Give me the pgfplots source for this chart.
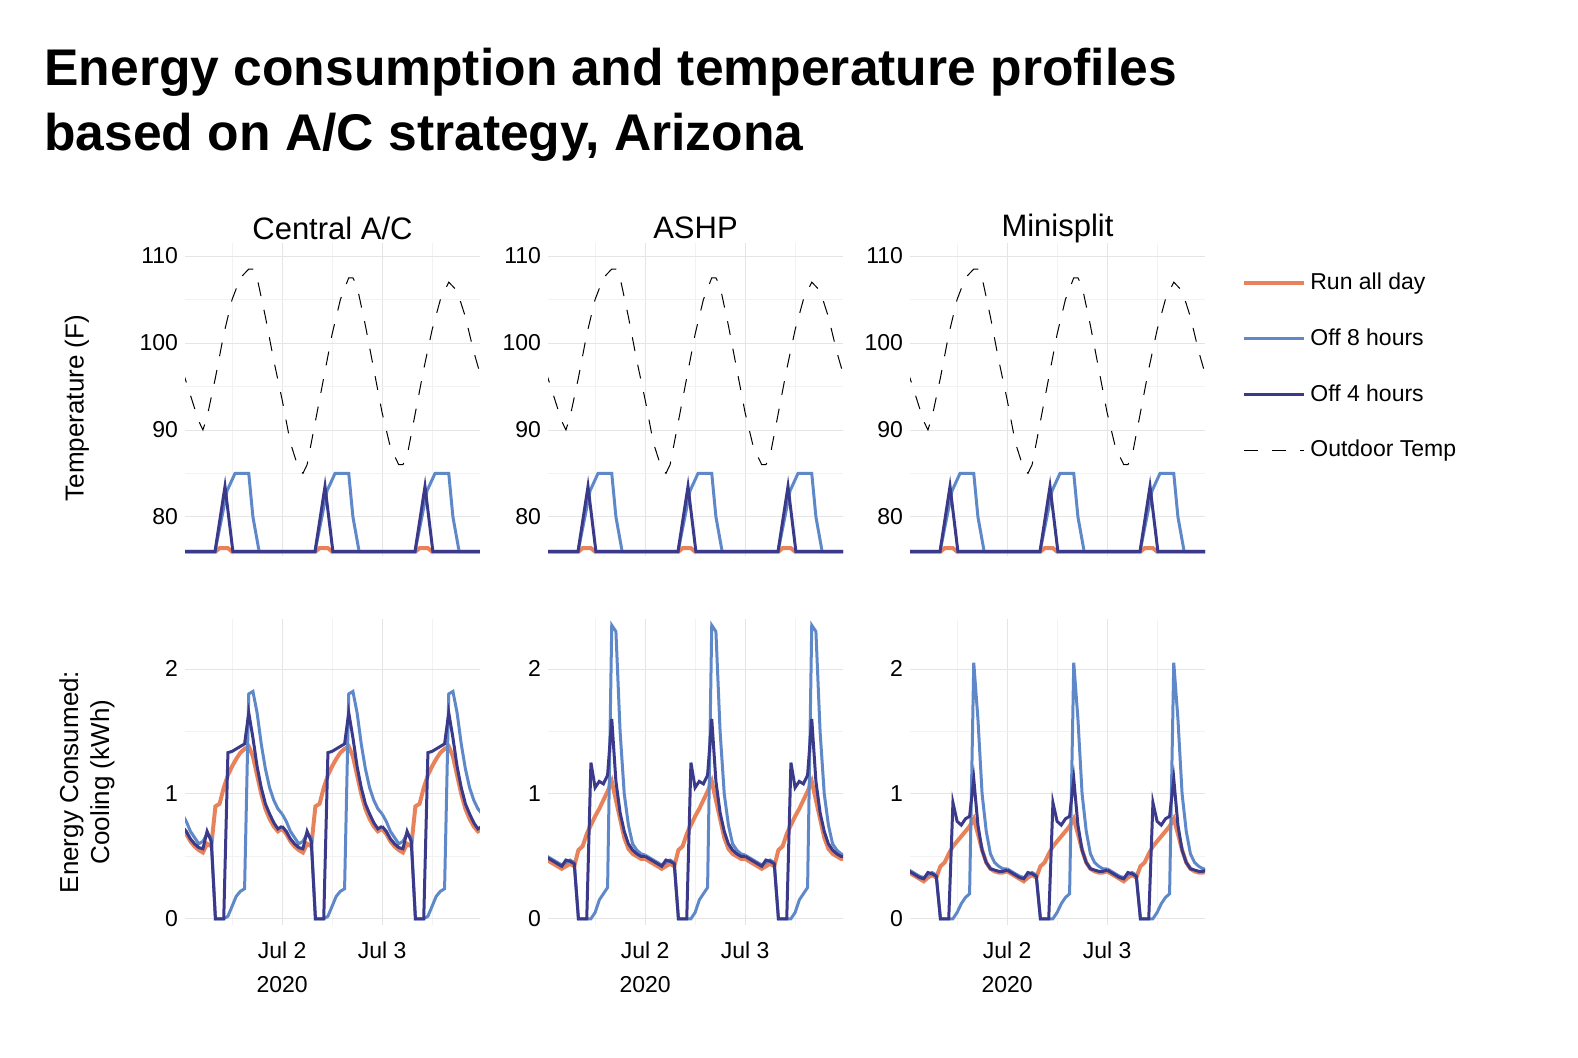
\documentclass[border=0pt]{standalone}
\usepackage{pgfplots}
\usepackage{pgfplotstable}
\pgfplotsset{compat=1.18}
\usepackage{fontspec}
\setmainfont{Liberation Sans}
\definecolor{runc}{HTML}{E8825A}
\definecolor{off8}{HTML}{5F88C9}
\definecolor{off4}{HTML}{3B3A8A}
\pgfplotstableread{
h r e4 e8
0 0.72 0.74 0.84
1 0.68 0.70 0.78
2 0.62 0.64 0.70
3 0.58 0.60 0.65
4 0.55 0.57 0.60
5 0.53 0.56 0.62
6 0.60 0.70 0.68
7 0.58 0.62 0.65
8 0.90 0.00 0.00
9 0.92 0.00 0.00
10 1.05 0.00 0.00
11 1.15 1.33 0.02
12 1.22 1.34 0.10
13 1.28 1.36 0.18
14 1.33 1.38 0.22
15 1.36 1.40 0.24
16 1.38 1.65 1.80
17 1.30 1.45 1.82
18 1.15 1.22 1.65
19 1.00 1.05 1.40
20 0.88 0.92 1.20
21 0.80 0.84 1.05
22 0.74 0.77 0.95
23 0.70 0.72 0.88
24 0.72 0.74 0.84
}\catab
\pgfplotstableread{
h r e4 e8
0 0.48 0.50 0.51
1 0.46 0.48 0.49
2 0.44 0.46 0.47
3 0.42 0.44 0.45
4 0.40 0.42 0.43
5 0.42 0.47 0.45
6 0.44 0.46 0.47
7 0.42 0.44 0.45
8 0.55 0.00 0.00
9 0.58 0.00 0.00
10 0.68 0.00 0.00
11 0.75 1.25 0.00
12 0.82 1.05 0.05
13 0.88 1.10 0.15
14 0.95 1.08 0.20
15 1.02 1.15 0.25
16 1.10 1.60 2.35
17 0.95 1.10 2.30
18 0.80 0.85 1.50
19 0.65 0.70 1.00
20 0.56 0.60 0.75
21 0.52 0.55 0.60
22 0.50 0.52 0.55
23 0.48 0.50 0.52
24 0.48 0.50 0.51
}\astab
\pgfplotstableread{
h r e4 e8
0 0.38 0.39 0.40
1 0.36 0.37 0.38
2 0.34 0.35 0.36
3 0.32 0.33 0.34
4 0.30 0.32 0.33
5 0.33 0.37 0.35
6 0.35 0.36 0.37
7 0.33 0.34 0.35
8 0.42 0.00 0.00
9 0.45 0.00 0.00
10 0.52 0.00 0.00
11 0.58 0.93 0.00
12 0.62 0.78 0.05
13 0.66 0.75 0.12
14 0.70 0.80 0.17
15 0.74 0.82 0.20
16 0.80 1.12 2.05
17 0.68 0.75 1.60
18 0.55 0.55 1.00
19 0.45 0.45 0.70
20 0.40 0.40 0.52
21 0.38 0.39 0.45
22 0.37 0.38 0.42
23 0.37 0.38 0.40
24 0.38 0.39 0.40
}\mstab
\pgfplotstableread{
h t
0 97
2 94
4 91
5 90
6 91.5
8 96
10 101
12 105
14 107.5
16 108.5
17 108.5
18 107.5
20 103
22 98
24 93.5
26 88.5
28 85.5
29 85
30 86
32 91
34 96
36 101
38 105
40 107.5
41 107.5
42 106.5
44 102
46 97
48 92
50 88
52 86
53 86
54 87
56 92
58 97
60 101.5
62 105
64 107
65 106.5
66 106
68 103
70 99
71.5 96.5
}\outtab
\pgfplotstableread{
h t
0 76
8 76
9 76.4
11 76.4
12 76
24 76
}\trun
\pgfplotstableread{
h t
0 76
7.9 76
10.8 83
12.7 85
16 85
17 80
18.5 76
24 76
}\teight
\pgfplotstableread{
h t
0 76
7.9 76
10.3 83.5
12.2 76
24 76
}\tfour
\pgfplotsset{
 panel/.style={scale only axis, width=147.5pt, xmin=0.7, xmax=71.5,
  axis line style={draw=none}, tick style={draw=none},
  grid=both, major grid style={black!10}, minor grid style={black!5},
  xtick={24,48}, minor xtick={12,36,60},
  tick label style={font=\fontsize{11.5}{13}\selectfont},
  /pgf/number format/assume math mode=true,
  title style={font=\fontsize{15.5}{18}\selectfont, at={(0.5,1)}, anchor=center, yshift=1.5pt}},
 toprow/.style={panel, height=156.5pt, ymin=75.5, ymax=111.5, ytick={80,90,100,110},
  minor ytick={85,95,105}, xticklabels={}},
 botrow/.style={panel, height=153pt, ymin=-0.05, ymax=2.4, ytick={0,1,2},
  minor ytick={0.5,1.5}, xticklabels={{Jul 2\\2020},{Jul 3}},
  xticklabel style={align=center, font=\fontsize{11.5}{17}\selectfont, yshift=-5pt}},
 runst/.style={runc, line width=2pt},
 e8st/.style={off8, line width=1.5pt},
 e4st/.style={off4, line width=1.5pt},
 outst/.style={black, line width=0.5pt, dash pattern=on 7pt off 7pt},
}
\newcommand\toppanel[1]{%
  \addplot[outst, forget plot] table[x=h,y=t]{\outtab};
  \pgfplotsinvokeforeach{0,24,48}{\addplot[runst, forget plot] table[x expr=\thisrow{h}+##1,y=t]{\trun};}
  \pgfplotsinvokeforeach{0,24,48}{\addplot[e8st, forget plot] table[x expr=\thisrow{h}+##1,y=t]{\teight};}
  \pgfplotsinvokeforeach{0,24,48}{\addplot[e4st, forget plot] table[x expr=\thisrow{h}+##1,y=t]{\tfour};}
}
\newcommand\botpanel[1]{%
  \pgfplotsinvokeforeach{0,24,48}{\addplot[runst] table[x expr=\thisrow{h}+##1,y=r]{#1};}
  \pgfplotsinvokeforeach{0,24,48}{\addplot[e8st] table[x expr=\thisrow{h}+##1,y=e8]{#1};}
  \pgfplotsinvokeforeach{0,24,48}{\addplot[e4st] table[x expr=\thisrow{h}+##1,y=e4]{#1};}
}
\begin{document}
\begin{tikzpicture}
\useasboundingbox (0,0) rectangle (789pt,-529pt);
\node[anchor=north west, inner sep=0pt, align=left, font=\fontsize{25.8}{32.5}\selectfont\bfseries] at (22pt,-24pt)
 {Energy consumption and temperature profiles\\based on A/C strategy, Arizona};
\begin{axis}[toprow, at={(92.5pt,-121.5pt)}, anchor=north west, title={Central A/C}]
\toppanel{}
\end{axis}
\begin{axis}[toprow, at={(274pt,-121.5pt)}, anchor=north west, title={ASHP}]
\toppanel{}
\end{axis}
\begin{axis}[toprow, at={(455pt,-121.5pt)}, anchor=north west, title={Minisplit},
  legend style={at={(1.105,0.93)}, anchor=north west, draw=none, fill=none,
   font=\fontsize{11.5}{13}\selectfont, row sep=14pt, cells={anchor=west}},
  legend image code/.code={\draw[#1] (0pt,0pt) -- (30pt,0pt);}]
\toppanel{}
\addlegendimage{runst}\addlegendentry{Run all day}
\addlegendimage{e8st}\addlegendentry{Off 8 hours}
\addlegendimage{e4st}\addlegendentry{Off 4 hours}
\addlegendimage{outst}\addlegendentry{Outdoor Temp}
\end{axis}
\begin{axis}[botrow, at={(92.5pt,-309.5pt)}, anchor=north west]
\botpanel{\catab}
\end{axis}
\begin{axis}[botrow, at={(274pt,-309.5pt)}, anchor=north west]
\botpanel{\astab}
\end{axis}
\begin{axis}[botrow, at={(455pt,-309.5pt)}, anchor=north west]
\botpanel{\mstab}
\end{axis}
\node[rotate=90, font=\fontsize{13}{15}\selectfont] at (38.5pt,-204pt) {Temperature (F)};
\node[rotate=90, align=center, font=\fontsize{13}{15.5}\selectfont] at (43.5pt,-391pt) {Energy Consumed:\\Cooling (kWh)};
\end{tikzpicture}
\end{document}
